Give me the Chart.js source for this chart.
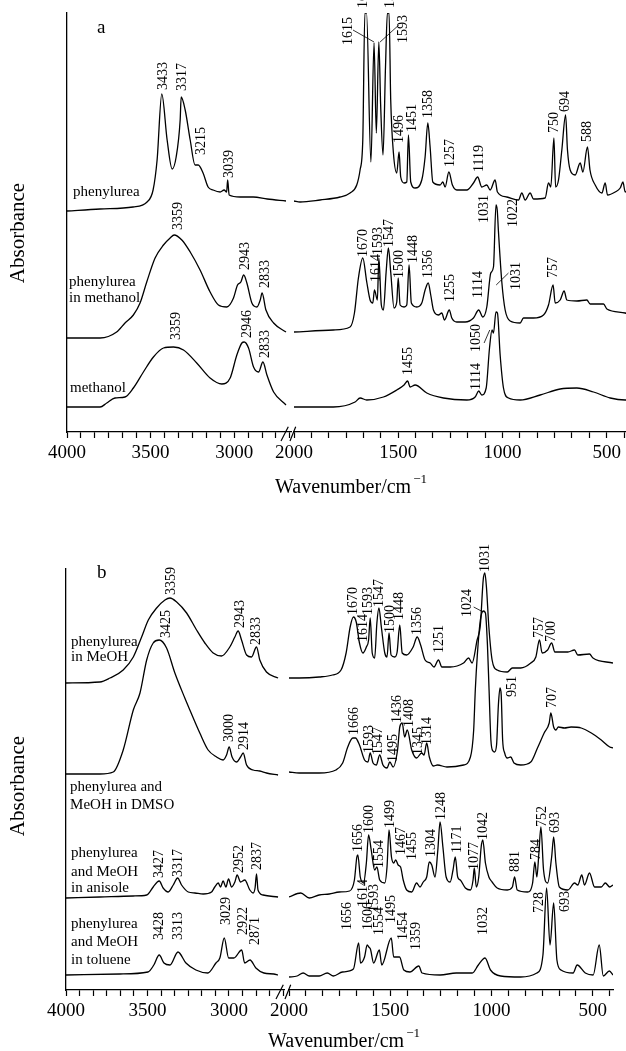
<!DOCTYPE html>
<html>
<head>
<meta charset="utf-8">
<script src="https://cdn.jsdelivr.net/npm/chart.js@4.4.0/dist/chart.umd.min.js"></script>
<style>
  html, body { margin: 0; padding: 0; background: #fff; overflow: hidden; }
  #fig { position: relative; width: 626px; height: 1051px; overflow: hidden; }
  canvas { position: absolute; left: 0; }
</style>
</head>
<body>
<div id="fig">
  <canvas id="aHi"></canvas><canvas id="aLo"></canvas>
  <canvas id="bHi"></canvas><canvas id="bLo"></canvas>
</div>
<script>
// ---- tick labels (cm-1) ----
const majorTicks = [4000, 3500, 3000, 2000, 1500, 1000, 500]

// ---- panel a : stacked spectra, arbitrary absorbance units ----
const aPhenylureaWn = [4000,3802,3605,3521,3485,3461,3433,3401,3371,3347,3323,3317,3293,3263,3234,3215,3186,3156,3126,3084,3060,3045,3039,3030,2964,2886,2802,2690,
  2000,1971,1875,1779,1731,1699,1683,1670,1660,1652,1631,1616,1605,1593,1584,1573,1561,1552,1544,1536,1523,1507,1496,1488,1472,1459,1451,1440,1419,1387,1371,1358,1347,1334,1299,1286,1275,1257,1240,1219,1171,1139,1119,1099,1075,1059,1035,1024,979,923,907,891,867,851,795,779,768,753,745,731,715,697,688,675,651,627,614,592,580,555,523,507,496,459,435,422,411,400]
const aPhenylureaAbs = [221,223,225,230,242,272,338,292,263,275,312,335,322,292,267,267,259,245,242,240,242,240,252,237,235,235,233,231,
  231,230,232,235,239,247,262,292,419,419,270,389,299,390,325,277,365,419,419,332,279,259,280,255,249,250,297,250,244,252,275,309,285,250,247,250,245,260,247,242,242,249,255,245,247,242,252,240,235,232,239,232,239,233,234,249,245,294,245,252,282,317,282,262,257,269,260,285,262,247,239,249,237,240,244,250,240,242]

const aInMethanolWn = [4000,3802,3703,3653,3603,3563,3523,3473,3423,3383,3359,3313,3263,3204,3144,3094,3044,3004,2980,2960,2943,2924,2894,2864,2844,2833,2810,2764,2690,
  2000,1811,1731,1710,1691,1670,1651,1635,1622,1614,1600,1593,1581,1571,1558,1547,1536,1520,1507,1500,1491,1472,1459,1448,1437,1411,1387,1371,1356,1344,1331,1307,1291,1278,1255,1243,1219,1179,1139,1114,1094,1075,1056,1043,1031,1025,1019,1003,987,963,915,899,851,803,779,757,747,723,704,691,643,595,579,539,515,499,411,400]
const aInMethanolAbs = [94,94,100,109,117,129,150,174,187,194,197,192,180,162,140,127,125,134,147,150,157,149,129,125,132,139,122,109,100,
  100,102,105,119,154,174,150,132,129,142,132,174,127,122,160,184,160,124,130,154,127,125,127,167,129,125,129,142,149,137,122,117,119,112,122,114,110,110,114,122,115,125,159,165,227,222,200,150,122,111,109,114,114,117,127,147,129,132,141,132,131,132,128,128,128,123,119,118]

const aMethanolWn = [4000,3802,3762,3713,3653,3603,3543,3483,3423,3363,3303,3224,3144,3074,3024,2984,2954,2940,2914,2884,2854,2828,2804,2764,2690,
  2000,1811,1707,1683,1651,1571,1507,1472,1455,1443,1419,1363,1283,1171,1131,1114,1099,1078,1062,1050,1043,1031,1024,1011,995,971,915,819,723,643,563,483,411,400]
const aMethanolAbs = [25,25,29,34,35,44,60,75,84,85,82,69,54,48,54,77,89,90,84,65,60,70,57,40,27,
  25,25,30,34,32,35,42,47,51,45,47,39,34,32,35,41,37,44,84,102,99,120,119,77,44,34,32,37,43,44,40,34,32,32]

// ---- panel b ----
const bInMeOHWn = [4000,3792,3730,3649,3587,3536,3495,3444,3393,3362,3321,3260,3199,3148,3097,3046,2995,2964,2944,2923,2892,2862,2831,2811,2770,2699,
  2000,1950,1851,1785,1743,1718,1698,1682,1668,1652,1635,1618,1607,1599,1589,1577,1566,1556,1544,1527,1516,1506,1496,1478,1466,1453,1441,1419,1387,1367,1350,1328,1303,1284,1262,1245,1204,1138,1113,1096,1071,1055,1041,1033,1025,1013,997,972,922,897,856,806,781,763,750,723,703,687,623,590,574,516,499,400]
const bInMeOHAbs = [302,303,307,315,328,348,365,377,385,387,383,372,355,342,332,329,338,348,354,345,330,328,338,325,313,307,
  307,307,308,310,315,332,358,368,363,342,332,338,345,367,332,327,362,377,358,332,328,352,330,328,333,360,332,330,338,348,340,325,322,318,325,318,318,322,327,322,345,360,405,412,398,358,325,315,313,317,317,322,328,345,332,335,342,333,333,335,330,331,327,322]

const bDMSOWn = [4000,3792,3710,3649,3587,3546,3505,3465,3428,3383,3332,3271,3240,3179,3128,3076,3036,3015,2999,2981,2954,2929,2913,2892,2852,2811,2770,2699,
  2000,1950,1851,1768,1735,1710,1685,1672,1652,1627,1610,1599,1585,1569,1552,1536,1516,1502,1486,1464,1453,1441,1429,1416,1394,1370,1345,1333,1320,1307,1287,1267,1220,1138,1104,1088,1080,1070,1055,1040,1030,1020,1012,1003,993,985,975,966,958,952,945,935,922,905,889,856,806,773,740,715,707,693,682,670,640,607,557,507,458,416,400]
const bDMSOAbs = [211,211,213,235,275,292,325,342,345,337,312,287,275,252,235,228,225,230,238,228,223,228,232,220,215,214,212,210,
  213,212,212,215,222,238,247,247,240,225,223,232,222,220,230,220,217,223,218,235,258,262,248,255,235,227,232,230,242,228,219,220,218,220,228,255,295,330,365,374,372,340,295,245,234,233,240,280,297,290,245,232,227,228,222,220,223,237,252,262,272,258,255,258,257,258,257,252,245,238,237]

const bAnisoleWn = [4000,3792,3587,3505,3465,3440,3428,3404,3373,3342,3315,3291,3250,3209,3158,3107,3087,3066,3052,3036,3019,3003,2984,2964,2950,2929,2903,2872,2852,2840,2831,2822,2791,2699,
  2000,1942,1900,1851,1801,1751,1701,1677,1665,1660,1648,1632,1618,1607,1594,1577,1566,1552,1527,1516,1506,1494,1483,1473,1461,1449,1436,1419,1394,1370,1353,1337,1320,1307,1295,1279,1265,1254,1240,1224,1204,1190,1179,1167,1154,1129,1104,1091,1085,1075,1063,1051,1043,1030,1013,997,972,922,897,886,873,822,797,786,776,766,756,743,723,703,693,682,665,623,590,574,554,541,516,491,458,438,416,400]
const bAnisoleAbs = [87,88,89,90,98,103,104,97,93,100,107,100,93,92,91,93,98,102,98,104,98,106,98,103,110,103,105,95,92,97,111,95,90,88,
  88,92,87,90,91,93,94,105,128,130,108,102,122,150,135,115,118,105,102,118,155,128,122,125,120,118,105,95,93,102,98,103,108,123,120,108,135,163,138,108,103,115,128,108,105,97,95,105,117,98,108,138,145,122,108,103,97,95,98,108,95,93,102,123,108,132,158,115,102,128,148,122,98,95,102,100,110,100,112,98,98,102,98,100]

const bTolueneWn = [4000,3669,3497,3461,3428,3399,3362,3313,3264,3203,3130,3080,3056,3029,3002,2970,2922,2904,2871,2835,2786,2725,2700,
  2000,1960,1930,1900,1851,1811,1781,1736,1682,1656,1647,1627,1614,1606,1598,1582,1554,1542,1495,1483,1454,1433,1403,1359,1343,1254,1174,1095,1065,1032,1005,955,856,776,746,728,711,693,677,657,597,577,537,498,468,448,418,400]
const bTolueneAbs = [10,11,13,20,30,22,20,33,22,15,12,22,27,47,27,27,35,22,25,17,12,11,10,
  8,9,12,9,9,12,9,13,16,42,22,28,40,38,36,22,35,20,47,28,28,15,13,19,12,10,12,12,20,27,15,9,8,12,30,97,40,82,25,15,12,20,12,10,40,9,14,10]

// ---- peak labels: [text, wavenumber, height of label foot] ----
const aPeakLabels = [
  ['3433',3425,342],['3317',3311,341],['3215',3198,277],['3039',3030,254],
  ['1657',1669,424],['1615',1739,387],['1547',1539,424],['1593',1477,389],['1496',1496,289],['1451',1430,300],
  ['1358',1355,314],['1257',1248,265],['1119',1112,260],['750',751,299],['694',696,320],['588',592,290],
  ['3359',3335,202],['2943',2934,162],['2833',2814,144],
  ['1670',1667,175],['1614',1606,150],['1593',1595,177],['1547',1543,185],['1500',1495,154],['1448',1427,169],
  ['1356',1355,154],['1255',1248,130],['1114',1115,134],['1031',1087,209],['1022',950,205],['757',755,154],
  ['3359',3343,92],['2946',2924,94],['2833',2814,74],
  ['1455',1451,57],['1114',1123,42],['1050',1123,80],['1031',931,142]
]
const aLeaders = [[1717,402,1616,390],[1497,407,1587,390],[1088,89,1061,102],[971,159,1030,147]]
const aNames = [['phenylurea',3964,240],['phenylurea',3988,150],['in methanol',3988,134],['methanol',3982,44]]

const bPeakLabels = [
  ['3359',3352,390],['2943',2933,357],['2833',2831,340],
  ['1670',1682,370],['1614',1635,343],['1593',1610,370],['1547',1552,378],['1500',1502,352],['1448',1453,365],
  ['1356',1367,350],['1251',1257,332],['1024',1121,368],['1031',1030,413],['757',764,347],['700',703,343],
  ['3425',3383,347],['3000',2999,243],['2914',2903,235],
  ['1666',1677,250],['1593',1602,232],['1547',1557,230],['1495',1483,223],['1436',1464,262],['1408',1407,258],
  ['1345',1362,230],['1314',1315,240],['951',897,288],['707',698,277],
  ['3427',3428,107],['3317',3311,108],['2952',2938,112],['2837',2827,115],
  ['1656',1660,133],['1600',1602,152],['1554',1552,117],['1499',1502,157],['1467',1444,130],['1455',1390,125],
  ['1304',1299,128],['1248',1250,165],['1171',1171,132],['1077',1085,115],['1042',1038,145],['881',881,113],
  ['784',781,125],['752',748,158],['693',687,152],
  ['3428',3430,45],['3313',3313,45],['3029',3015,60],['2922',2913,50],['2871',2841,40],
  ['1656',1710,55],['1614',1635,78],['1606',1610,55],['1593',1577,73],['1554',1556,50],['1495',1494,62],
  ['1454',1436,45],['1359',1370,35],['1032',1038,50],['728',763,72],['693',636,73]
]
const bLeaders = [[1088,378,1041,373]]
const bNames = [['phenylurea',3969,343],['in MeOH',3969,328],['phenylurea and',3975,198],['MeOH in DMSO',3975,180],
  ['phenylurea',3969,132],['and MeOH',3969,113],['in anisole',3969,97],
  ['phenylurea',3969,61],['and MeOH',3969,43],['in toluene',3969,25]]

// ---- layout (pixels) ----
const geom = {
  a: { top: 0, h: 520, plotTop: 13, axisY: 432, yMin: 0, yMax: 419,
       hi: { l: 67, r: 291, min: 2660 }, lo: { l: 294, r: 627.5 },
       letter: ['a', 97, 28], absorb: [18, 233], title: [351, 488] },
  b: { top: 520, h: 531, plotTop: 49, axisY: 470, yMin: -5, yMax: 416,
       hi: { l: 66, r: 284.4, min: 2660 }, lo: { l: 289, r: 613 },
       letter: ['b', 97, 53], absorb: [18, 266], title: [344, 522] },
}

const SERIF = "'Liberation Serif', 'Times New Roman', serif"
Chart.defaults.font.family = SERIF
Chart.defaults.color = '#000'

function tickValues(from, to) {
    const out = []
    for (let k = 0; ; k++) {
        const v = from - k * 500 / 6
        if (v < to - 1e-6) break
        out.push(v)
    }
    return out
}

function rotText(ctx, t, x, y) {
    ctx.save()
    ctx.translate(x, y)
    ctx.rotate(-Math.PI / 2)
    ctx.fillText(t, 0, 0)
    ctx.restore()
}

function makeChart(id, g, seg, spectra, labels, leaders, names) {
    const isHi = seg === 'hi'
    const s = g[seg]
    const W = isHi ? 626 : 640
    const el = document.getElementById(id)
    el.width = W
    el.height = g.h
    el.style.top = g.top + 'px'
    const xMax = isHi ? 4000 : 2000
    const xMin = isHi ? s.min : 400
    const keep = w => isHi ? w > 2300 : w <= 2300

    const datasets = spectra.map(([wn, ab]) => ({
        data: wn.map((w, i) => ({ x: w, y: ab[i] })).filter(p => keep(p.x)),
        borderColor: '#000',
        borderWidth: 1.3,
        pointRadius: 0,
        fill: false,
        cubicInterpolationMode: 'monotone',
    }))

    const marks = {
        id: 'marks',
        afterDraw(chart) {
            const { ctx, chartArea } = chart
            const x = chart.scales.x, y = chart.scales.y
            ctx.save()
            ctx.fillStyle = '#000'
            ctx.strokeStyle = '#000'
            ctx.textAlign = 'left'
            ctx.textBaseline = 'middle'
            ctx.font = '14px ' + SERIF
            labels.filter(l => keep(l[1])).forEach(([t, w, h]) => {
                rotText(ctx, t, x.getPixelForValue(w), y.getPixelForValue(h))
            })
            ctx.lineWidth = 0.8
            leaders.filter(l => keep(l[0])).forEach(([w1, h1, w2, h2]) => {
                ctx.beginPath()
                ctx.moveTo(x.getPixelForValue(w1), y.getPixelForValue(h1))
                ctx.lineTo(x.getPixelForValue(w2), y.getPixelForValue(h2))
                ctx.stroke()
            })
            if (isHi) {
                ctx.font = '15px ' + SERIF
                names.forEach(([t, w, h]) => ctx.fillText(t, x.getPixelForValue(w), y.getPixelForValue(h)))
                ctx.font = '19px ' + SERIF
                ctx.fillText(g.letter[0], g.letter[1], g.letter[2])
                // y title
                ctx.font = '21px ' + SERIF
                ctx.textAlign = 'center'
                rotText(ctx, 'Absorbance', g.absorb[0], g.absorb[1])
                // x title with superscript
                const main = 'Wavenumber/cm', sup = '\u22121'
                ctx.font = '20px ' + SERIF
                const w1 = ctx.measureText(main).width
                ctx.font = '13px ' + SERIF
                const w2 = ctx.measureText(sup).width
                const x0 = g.title[0] - (w1 + w2 + 2) / 2
                ctx.textAlign = 'left'
                ctx.font = '20px ' + SERIF
                ctx.fillText(main, x0, g.title[1])
                ctx.font = '13px ' + SERIF
                ctx.fillText(sup, x0 + w1 + 2, g.title[1] - 8)
            } else {
                // axis break marks
                const L = chartArea.left, A = chartArea.bottom
                ctx.lineWidth = 1.2
                ctx.beginPath()
                ctx.moveTo(L - 13, A + 9); ctx.lineTo(L - 5.7, A - 5.3)
                ctx.moveTo(L - 4, A + 9); ctx.lineTo(L + 1.7, A - 5.3)
                ctx.stroke()
            }
            ctx.restore()
        }
    }

    return new Chart(el, {
        type: 'line',
        data: { datasets },
        options: {
            responsive: false,
            animation: false,
            devicePixelRatio: 1,
            layout: { padding: { left: s.l, right: W - s.r, top: g.plotTop, bottom: g.h - g.axisY - 40 } },
            plugins: { legend: { display: false }, tooltip: { enabled: false } },
            scales: {
                x: {
                    type: 'linear', reverse: true, min: xMin, max: xMax,
                    afterBuildTicks: sc => { sc.ticks = tickValues(xMax, xMin).map(v => ({ value: v })) },
                    afterFit: sc => { sc.height = 40 },
                    ticks: {
                        autoSkip: false, maxRotation: 0, minRotation: 0, padding: 4, color: '#000',
                        font: { size: 19 },
                        callback: v => majorTicks.some(m => Math.abs(m - v) < 1e-3) ? String(Math.round(v)) : '',
                    },
                    grid: { drawOnChartArea: false, drawTicks: true, tickLength: 6, tickColor: '#000', tickWidth: 1.2 },
                    border: { display: true, color: '#000', width: 1.3 },
                },
                y: {
                    type: 'linear', min: g.yMin, max: g.yMax, display: isHi,
                    afterFit: sc => { sc.width = 0 },
                    ticks: { display: false },
                    grid: { drawOnChartArea: false, drawTicks: false },
                    border: { display: true, color: '#000', width: 1.3 },
                },
            },
        },
        plugins: [marks],
    })
}

const aSpectra = [[aPhenylureaWn, aPhenylureaAbs], [aInMethanolWn, aInMethanolAbs], [aMethanolWn, aMethanolAbs]]
const bSpectra = [[bInMeOHWn, bInMeOHAbs], [bDMSOWn, bDMSOAbs], [bAnisoleWn, bAnisoleAbs], [bTolueneWn, bTolueneAbs]]

makeChart('aHi', geom.a, 'hi', aSpectra, aPeakLabels, aLeaders, aNames)
makeChart('aLo', geom.a, 'lo', aSpectra, aPeakLabels, aLeaders, aNames)
makeChart('bHi', geom.b, 'hi', bSpectra, bPeakLabels, bLeaders, bNames)
makeChart('bLo', geom.b, 'lo', bSpectra, bPeakLabels, bLeaders, bNames)
</script>
</body>
</html>
